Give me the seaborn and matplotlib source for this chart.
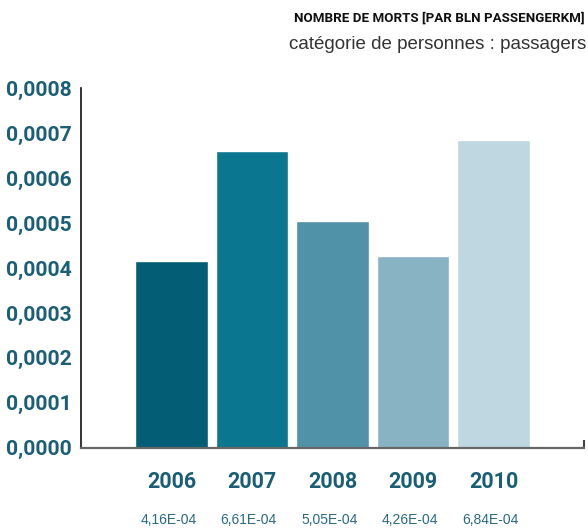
import matplotlib
matplotlib.use("Agg")
import matplotlib.pyplot as plt
import seaborn as sns
import pandas as pd

years = ["2006", "2007", "2008", "2009", "2010"]
values = [4.16e-4, 6.61e-4, 5.05e-4, 4.26e-4, 6.84e-4]
value_labels = ["4,16E-04", "6,61E-04", "5,05E-04", "4,26E-04", "6,84E-04"]
colors = ["#035e75", "#0b768f", "#5092a8", "#87b3c3", "#bed7e0"]
yticks = [0, 0.0001, 0.0002, 0.0003, 0.0004, 0.0005, 0.0006, 0.0007, 0.0008]
ytick_labels = ["0,0000", "0,0001", "0,0002", "0,0003", "0,0004", "0,0005", "0,0006", "0,0007", "0,0008"]
title = "NOMBRE DE MORTS [PAR BLN PASSENGERKM]"
subtitle = "catégorie de personnes : passagers"

sns.set_style("white")
plt.rcParams['font.family'] = ['Liberation Sans', 'DejaVu Sans']

df = pd.DataFrame({"year": years, "value": values})

fig = plt.figure(figsize=(5.88, 5.29), dpi=100)
ax = fig.add_axes([0.1372, 0.1537, 0.9937 - 0.1372, 0.8331 - 0.1537])
sns.barplot(data=df, x="year", y="value", hue="year", palette=colors,
            width=0.9, legend=False, ax=ax, saturation=1)

ax.set_xlim(-1.128, 5.128)
ax.set_ylim(0, 0.0008)
ax.set_yticks(yticks)
narrow = ['Roboto', 'DejaVu Sans']
ax.set_yticklabels(ytick_labels, fontfamily=narrow, fontweight='bold',
                   fontsize=15.2, color="#1b5f77")
ax.set_xticks(range(len(years)))
ax.set_xticklabels(years, fontfamily=narrow, fontweight='bold',
                   fontsize=15.5, color="#1b5f77")
ax.tick_params(axis='y', direction='in', length=9.5, width=1.2, color="#555555", pad=6.3)
ax.tick_params(axis='x', length=0, pad=17)
ax.set_xlabel("")
ax.set_ylabel("")

for s in ["top", "right"]:
    ax.spines[s].set_visible(False)
ax.spines["left"].set_color("#111111")
ax.spines["left"].set_linewidth(1.2)
ax.spines["bottom"].set_color("#666666")
ax.spines["bottom"].set_linewidth(1.6)
ax.plot([1, 1], [0, 0.022], transform=ax.transAxes, color="#444444",
        lw=1.5, clip_on=False, solid_capstyle='butt')

for i, lab in enumerate(value_labels):
    ax.text(i - 0.04, -0.2, lab, transform=ax.get_xaxis_transform(), ha='center',
            va='center', fontsize=10, color="#2a6a82")

fig.text(0.995, 0.966, title, ha='right', va='center', fontfamily=narrow,
         fontweight='bold', fontsize=9.6, color="#111111")
fig.text(0.997, 0.915, subtitle, ha='right', va='center', fontsize=13.5,
         color="#333333")

fig.savefig("out.png", dpi=100)
